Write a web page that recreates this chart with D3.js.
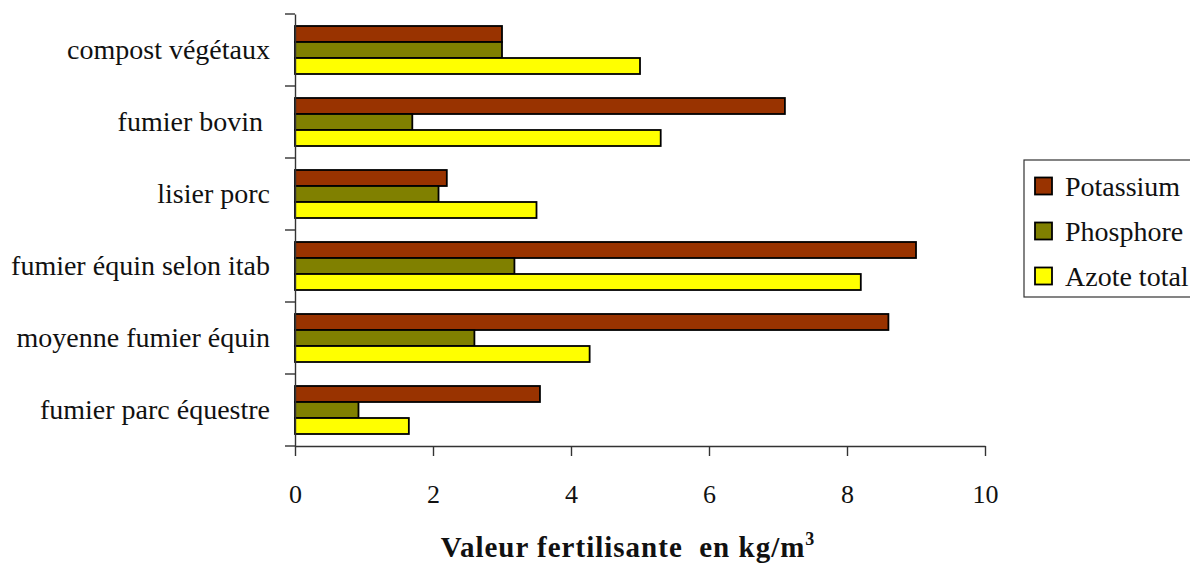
<!DOCTYPE html>
<html>
<head>
<meta charset="utf-8">
<script src="https://cdn.jsdelivr.net/npm/d3@7"></script>
<style>
  body { margin: 0; background: #fff; }
  svg { display: block; }
  svg text { font-family: "Liberation Serif", "Times New Roman", "DejaVu Serif", serif; }
</style>
</head>
<body>
<svg id="chart" width="1190" height="566"></svg>
<script>
// Fertilising value of organic manures, kg/m3
const categories = [
  "compost végétaux",
  "fumier bovin ",
  "lisier porc",
  "fumier équin selon itab",
  "moyenne fumier équin",
  "fumier parc équestre"
];
const seriesNames = ["Potassium", "Phosphore", "Azote total"];
const potassium = [3.0, 7.1, 2.2, 9.0, 8.6, 3.55];
const phosphore = [3.0, 1.7, 2.08, 3.18, 2.6, 0.92];
const azote     = [5.0, 5.3, 3.5, 8.2, 4.27, 1.65];
const seriesValues = [potassium, phosphore, azote];
const seriesColors = ["#993300", "#808000", "#ffff00"];
const xTicks = [0, 2, 4, 6, 8, 10];

const svg = d3.select("#chart");
const plotLeft = 295, plotRight = 985, plotTop = 14, plotBottom = 446;

const x = d3.scaleLinear().domain([0, 10]).range([plotLeft, plotRight]);
const y = d3.scaleBand().domain(categories).range([plotTop, plotBottom]).padding(0);
const inner = d3.scaleBand().domain(seriesNames)
  .range([y.bandwidth() / 6, y.bandwidth() * 5 / 6]).padding(0);

// bars
const groups = svg.selectAll("g.cat").data(categories).join("g")
  .attr("class", "cat")
  .attr("transform", d => `translate(0,${y(d)})`);

groups.each(function(cat, ci) {
  d3.select(this).selectAll("rect").data(seriesNames).join("rect")
    .attr("x", x(0))
    .attr("y", s => inner(s))
    .attr("width", (s, si) => x(seriesValues[si][ci]) - x(0))
    .attr("height", inner.bandwidth())
    .attr("fill", (s, si) => seriesColors[si])
    .attr("stroke", "#000")
    .attr("stroke-width", 1.8);
});

// y axis
const yAxis = d3.axisLeft(y).tickSize(0).tickFormat("");
const gy = svg.append("g").attr("transform", `translate(${plotLeft},0)`).call(yAxis);
gy.select(".domain").attr("stroke", "#333").attr("stroke-width", 1.4);
// separators between categories
const bounds = categories.map(c => y(c)).concat([plotBottom]);
svg.append("g").selectAll("line").data(bounds).join("line")
  .attr("x1", plotLeft - 10).attr("x2", plotLeft)
  .attr("y1", d => d).attr("y2", d => d)
  .attr("stroke", "#333").attr("stroke-width", 1.4);

// category labels
svg.append("g").selectAll("text").data(categories).join("text")
  .attr("x", plotLeft - 25)
  .attr("y", d => y(d) + y.bandwidth() / 2)
  .attr("dy", "0.32em")
  .attr("text-anchor", "end")
  .attr("font-size", 28)
  .attr("fill", "#111")
  .style("white-space", "pre")
  .text(d => d);

// x axis
const xAxis = d3.axisBottom(x).tickValues(xTicks).tickSize(10).tickPadding(29).tickSizeOuter(0);
const gx = svg.append("g").attr("transform", `translate(0,${plotBottom})`).call(xAxis);
gx.attr("font-family", null);
gx.select(".domain").attr("stroke", "#333").attr("stroke-width", 1.4);
gx.selectAll(".tick line").attr("stroke", "#333").attr("stroke-width", 1.4);
gx.selectAll(".tick text")
  .attr("font-size", 26)
  .attr("fill", "#111");

// axis title
const title = svg.append("text")
  .attr("x", 628).attr("y", 557)
  .attr("text-anchor", "middle")
  .attr("font-size", 29)
  .attr("font-weight", "bold")
  .attr("letter-spacing", 1)
  .attr("fill", "#111")
  .style("white-space", "pre");
title.append("tspan").text("Valeur fertilisante  en kg/m");
title.append("tspan").attr("font-size", 18).attr("dy", -12).text("3");

// legend
const legend = svg.append("g");
legend.append("rect")
  .attr("x", 1024).attr("y", 160).attr("width", 200).attr("height", 137)
  .attr("fill", "#fff").attr("stroke", "#333").attr("stroke-width", 1.2);
const items = legend.selectAll("g.item").data(seriesNames).join("g")
  .attr("class", "item")
  .attr("transform", (d, i) => `translate(1035,${186 + i * 45})`);
items.append("rect")
  .attr("x", 0).attr("y", -8.5).attr("width", 17).attr("height", 17)
  .attr("fill", (d, i) => seriesColors[i])
  .attr("stroke", "#000").attr("stroke-width", 1.8);
items.append("text")
  .attr("x", 30).attr("y", 0).attr("dy", "0.35em")
  .attr("font-size", 28).attr("fill", "#111")
  .text(d => d);
</script>
</body>
</html>
